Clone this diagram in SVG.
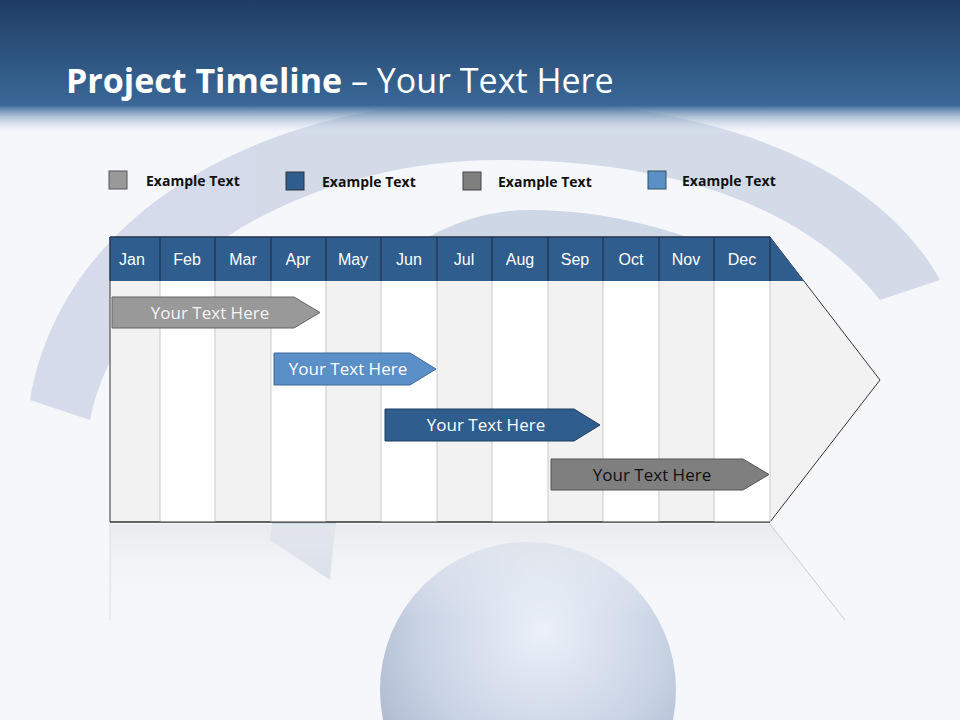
<svg xmlns="http://www.w3.org/2000/svg" width="960" height="720" viewBox="0 0 960 720">
<defs>
<linearGradient id="hdr" x1="0" y1="0" x2="0" y2="1">
<stop offset="0" stop-color="#1f3d63"/><stop offset="0.78" stop-color="#3a6898"/><stop offset="1" stop-color="#f5f7fb" stop-opacity="0"/>
</linearGradient>
<radialGradient id="sph" cx="0.55" cy="0.3" r="0.7">
<stop offset="0" stop-color="#e8eef8"/><stop offset="0.6" stop-color="#b8c6dc"/><stop offset="1" stop-color="#8c9cb8"/>
</radialGradient>
<linearGradient id="refl" x1="0" y1="0" x2="0" y2="1">
<stop offset="0" stop-color="#e6e8ec" stop-opacity="0.8"/><stop offset="1" stop-color="#f5f7fb" stop-opacity="0"/>
</linearGradient>
<style>
.m{font-family:"Liberation Sans",Arial,sans-serif;font-size:16px;fill:#fff;text-anchor:middle}
.lg{font-family:"Open Sans","DejaVu Sans",sans-serif;font-size:14px;font-weight:bold;fill:#111}
.bt{font-family:"Open Sans","DejaVu Sans",sans-serif;font-size:17px;text-anchor:middle}
.col{stroke:#d0d0d0;stroke-width:1.2}
.hd{stroke:#1a2a40;stroke-width:1}
</style>
</defs>
<rect width="960" height="720" fill="#f5f7fb"/>
<g opacity="0.55">
<path d="M30 400 C60 220 250 100 500 100 C720 100 880 170 940 280 L880 300 C800 200 660 160 500 160 C300 160 120 270 90 420 Z" fill="#b9c5dc"/>
<path d="M270 540 C300 300 420 210 530 210 C650 210 760 260 800 300 L760 320 C700 270 620 250 530 250 C430 250 350 330 330 580 Z" fill="#b0bdd4"/>
</g>
<circle cx="528" cy="690" r="148" fill="url(#sph)" opacity="0.75"/>
<rect width="960" height="135" fill="url(#hdr)"/>
<text x="66" y="93" font-family="'Open Sans','DejaVu Sans',sans-serif" font-size="34" fill="#fff"><tspan font-weight="bold">Project Timeline</tspan> – Your Text Here</text>
<g id="legend">
<rect x="109" y="171" width="18" height="18" fill="#999" stroke="#555"/><text class="lg" x="146" y="186">Example Text</text>
<rect x="286" y="172" width="18" height="18" fill="#2f5d8e" stroke="#333"/><text class="lg" x="322" y="187">Example Text</text>
<rect x="463" y="172" width="18" height="18" fill="#7f7f7f" stroke="#444"/><text class="lg" x="498" y="187">Example Text</text>
<rect x="648" y="171" width="18" height="18" fill="#5b8fc8" stroke="#355"/><text class="lg" x="682" y="186">Example Text</text>
</g>
<g id="timeline">
<path d="M110 524 L770 524 L845 620 L110 620 Z" fill="url(#refl)"/>
<line x1="770" y1="524" x2="845" y2="620" stroke="#ccc"/>
<line x1="110" y1="524" x2="110" y2="620" stroke="#ddd"/>
<path d="M110 237 L770 237 L880 380 L770 522 L110 522 Z" fill="#f2f2f2" stroke="#333"/>
<g fill="#fff">
<rect x="160" y="281" width="55" height="241"/><rect x="271" y="281" width="55" height="241"/><rect x="381" y="281" width="56" height="241"/><rect x="492" y="281" width="56" height="241"/><rect x="603" y="281" width="56" height="241"/><rect x="714" y="281" width="56" height="241"/>
</g>
<g class="col">
<line x1="160" y1="281" x2="160" y2="522"/><line x1="215" y1="281" x2="215" y2="522"/><line x1="271" y1="281" x2="271" y2="522"/><line x1="326" y1="281" x2="326" y2="522"/><line x1="381" y1="281" x2="381" y2="522"/><line x1="437" y1="281" x2="437" y2="522"/><line x1="492" y1="281" x2="492" y2="522"/><line x1="548" y1="281" x2="548" y2="522"/><line x1="603" y1="281" x2="603" y2="522"/><line x1="659" y1="281" x2="659" y2="522"/><line x1="714" y1="281" x2="714" y2="522"/><line x1="770" y1="281" x2="770" y2="522"/>
</g>
<line x1="110" y1="522" x2="770" y2="522" stroke="#333"/>
<path d="M110 237 L770 237 L804 281 L110 281 Z" fill="#2f5d8e"/>
<g class="hd">
<line x1="110" y1="237" x2="110" y2="281"/><line x1="160" y1="237" x2="160" y2="281"/><line x1="215" y1="237" x2="215" y2="281"/><line x1="271" y1="237" x2="271" y2="281"/><line x1="326" y1="237" x2="326" y2="281"/><line x1="381" y1="237" x2="381" y2="281"/><line x1="437" y1="237" x2="437" y2="281"/><line x1="492" y1="237" x2="492" y2="281"/><line x1="548" y1="237" x2="548" y2="281"/><line x1="603" y1="237" x2="603" y2="281"/><line x1="659" y1="237" x2="659" y2="281"/><line x1="714" y1="237" x2="714" y2="281"/><line x1="770" y1="237" x2="770" y2="281"/>
</g>
<line x1="110" y1="237" x2="770" y2="237" stroke="#1a2a40"/>
<g>
<text class="m" x="132" y="265">Jan</text><text class="m" x="187" y="265">Feb</text><text class="m" x="243" y="265">Mar</text><text class="m" x="298" y="265">Apr</text><text class="m" x="353" y="265">May</text><text class="m" x="409" y="265">Jun</text><text class="m" x="464" y="265">Jul</text><text class="m" x="520" y="265">Aug</text><text class="m" x="575" y="265">Sep</text><text class="m" x="631" y="265">Oct</text><text class="m" x="686" y="265">Nov</text><text class="m" x="742" y="265">Dec</text>
</g>
</g>
<g id="bar1"><path d="M112 297 L294 297 L320 312.5 L294 328 L112 328 Z" fill="#999" stroke="#666"/><text class="bt" x="210" y="319" fill="#f4f4f4">Your  Text Here</text></g>
<g id="bar2"><path d="M274 353 L410 353 L436 369 L410 385 L274 385 Z" fill="#5b8fc8" stroke="#3d6a9a"/><text class="bt" x="348" y="375" fill="#fff">Your  Text Here</text></g>
<g id="bar3"><path d="M385 409 L574 409 L600 425 L574 441 L385 441 Z" fill="#2f5d8e" stroke="#1f3d63"/><text class="bt" x="486" y="431" fill="#fff">Your  Text Here</text></g>
<g id="bar4"><path d="M551 459 L743 459 L769 474.5 L743 490 L551 490 Z" fill="#7f7f7f" stroke="#555"/><text class="bt" x="652" y="481" fill="#111">Your  Text Here</text></g>
</svg>
